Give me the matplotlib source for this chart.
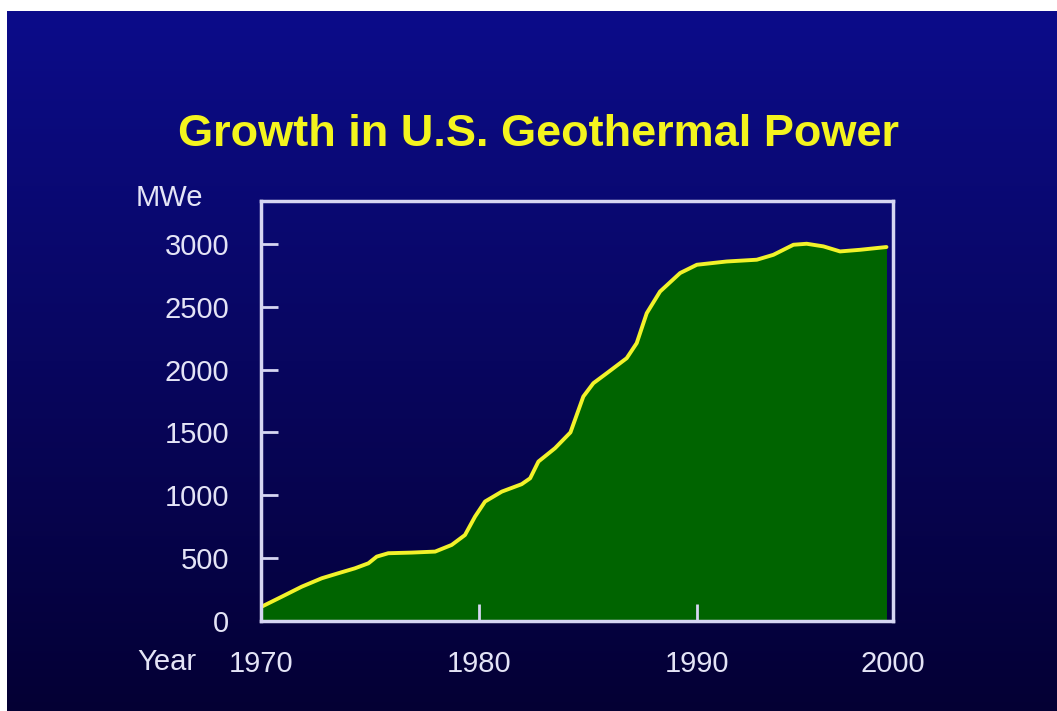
import numpy as np
import matplotlib
matplotlib.use("Agg")
import matplotlib.pyplot as plt

plt.rcParams["font.family"] = ["Liberation Sans", "DejaVu Sans"]

# values (x positions as drawn on its axis)
years = [1970.03, 1970.95, 1971.87, 1972.79, 1973.55, 1974.31, 1974.93, 1975.31,
         1975.84, 1976.91, 1977.99, 1978.75, 1979.36, 1979.82, 1980.28, 1981.05,
         1981.96, 1982.35, 1982.73, 1983.49, 1984.20, 1984.79, 1985.25, 1985.87,
         1986.78, 1987.24, 1987.70, 1988.31, 1989.23, 1990.00, 1991.37, 1992.75,
         1993.51, 1994.43, 1995.04, 1995.81, 1996.57, 1997.49, 1998.70]
mwe = [114, 193, 273, 340, 380, 419, 459, 512,
       539, 544, 552, 605, 684, 830, 950, 1029,
       1088, 1135, 1268, 1374, 1500, 1785, 1891, 1971,
       2090, 2210, 2448, 2620, 2767, 2833, 2859, 2873,
       2912, 2992, 3000, 2979, 2939, 2952, 2974]
x_ticks = [1970, 1980, 1990, 1999]
x_labels = ["1970", "1980", "1990", "2000"]
y_ticks = [0, 500, 1000, 1500, 2000, 2500, 3000]
title = "Growth in U.S. Geothermal Power"

W, H = 1057, 711
fig = plt.figure(figsize=(W / 100, H / 100), dpi=100, facecolor="white")

# slide background gradient (white margin on top and left)
bg = fig.add_axes([7 / W, 0, 1 - 7 / W, (H - 11) / H])
top = np.array([12, 12, 138]) / 255
bottom = np.array([4, 0, 52]) / 255
t = np.linspace(0, 1, 256)[:, None]
grad = top[None, :] * (1 - t) + bottom[None, :] * t
bg.imshow(grad[:, None, :], aspect="auto", extent=[0, 1, 0, 1])
bg.set_axis_off()

text_color = "#e4e4f6"
frame_color = "#d6d6f2"

ax = fig.add_axes([261 / W, 1 - 621 / H, (893 - 261) / W, (621 - 201) / H])
ax.patch.set_alpha(0)
ax.fill_between(years, mwe, 0, color="#006400", linewidth=0, zorder=1)
ax.plot(years, mwe, color="#f2f22a", linewidth=2.8, solid_capstyle="round",
        solid_joinstyle="round", zorder=2)
ax.set_xlim(1970, 1999)
ax.set_ylim(0, 3340)
ax.set_xticks(x_ticks)
ax.set_yticks(y_ticks)
ax.set_xticklabels(x_labels)
ax.set_yticklabels([str(v) for v in y_ticks])
ax.tick_params(direction="in", length=12, width=2, color=frame_color,
               labelcolor=text_color, labelsize=21)
ax.tick_params(axis="x", pad=21)
ax.tick_params(axis="y", pad=23)
for spine in ax.spines.values():
    spine.set_color(frame_color)
    spine.set_linewidth(2.5)
    spine.set_zorder(3)

fig.text(538 / W, 1 - 134 / H, title, color="#f4f41e", fontsize=32.5,
         fontweight="bold", ha="center", va="center")
fig.text(169 / W, 1 - 198 / H, "MWe", color=text_color, fontsize=21,
         ha="center", va="center")
fig.text(167 / W, 1 - 662 / H, "Year", color=text_color, fontsize=21,
         ha="center", va="center")

fig.savefig("out.png", dpi=100, facecolor="white")
